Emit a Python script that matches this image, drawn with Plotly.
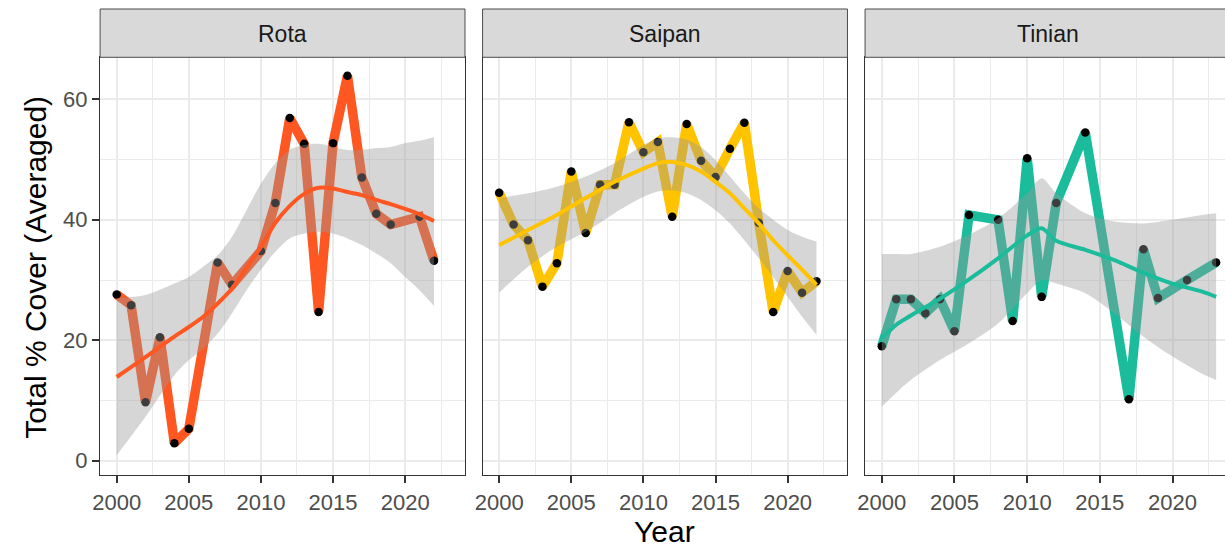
import plotly.graph_objects as go

# ---------------- data ----------------
islands = ["Rota", "Saipan", "Tinian"]
colors = ["#FF5722", "#FFC300", "#1ABC9C"]

rota_years = [2000, 2001, 2002, 2003, 2004, 2005, 2007, 2008, 2010, 2011, 2012,
              2013, 2014, 2015, 2016, 2017, 2018, 2019, 2021, 2022]
rota_cover = [27.6, 25.8, 9.7, 20.5, 2.9, 5.3, 32.9, 29.2, 34.8, 42.8, 56.9,
              52.6, 24.7, 52.7, 63.9, 47.0, 41.0, 39.2, 40.5, 33.2]

saipan_years = [2000, 2001, 2002, 2003, 2004, 2005, 2006, 2007, 2008, 2009, 2010,
                2011, 2012, 2013, 2014, 2015, 2016, 2017, 2018, 2019, 2020, 2021, 2022]
saipan_cover = [44.5, 39.2, 36.6, 28.9, 32.8, 48.0, 37.8, 45.8, 45.8, 56.2, 51.2,
                52.9, 40.5, 55.9, 49.8, 47.1, 51.8, 56.1, 39.5, 24.7, 31.5, 27.9, 29.8]

tinian_years = [2000, 2001, 2002, 2003, 2004, 2005, 2006, 2008, 2009, 2010, 2011,
                2012, 2014, 2017, 2018, 2019, 2021, 2023]
tinian_cover = [19.0, 26.8, 26.8, 24.5, 26.8, 21.5, 40.8, 40.0, 23.2, 50.2, 27.2,
                42.8, 54.5, 10.2, 35.1, 27.0, 30.0, 32.9]

# smoothed trend (loess) and 95% band
rota_sm_years = [2000, 2002, 2004, 2005, 2006, 2007, 2008, 2009, 2010, 2011, 2012,
                 2013, 2014, 2015, 2016, 2017, 2018, 2019, 2020, 2021, 2022]
rota_sm_fit = [13.9, 17.2, 20.6, 22.2, 23.9, 26.1, 28.6, 32.0, 35.5, 39.5, 42.3,
               44.3, 45.3, 45.2, 44.6, 44.1, 43.3, 42.6, 41.8, 40.9, 39.8]
rota_sm_hi = [27.0, 27.5, 29.4, 30.5, 32.2, 34.1, 37.2, 41.6, 46.0, 49.4, 51.6,
              52.4, 52.6, 52.1, 51.6, 51.6, 51.9, 52.1, 52.7, 53.1, 53.7]
rota_sm_lo = [0.9, 7.3, 14.2, 16.7, 18.6, 21.1, 24.5, 28.3, 31.7, 34.7, 36.9,
              37.7, 38.0, 37.7, 36.9, 35.8, 34.4, 32.8, 30.5, 28.3, 25.7]

saipan_sm_years = [2000, 2002, 2004, 2006, 2008, 2010, 2011, 2012, 2013, 2014, 2015,
                   2016, 2017, 2018, 2019, 2020, 2021, 2022]
saipan_sm_fit = [35.8, 38.3, 40.8, 43.6, 46.3, 48.5, 49.4, 49.6, 49.1, 48.0, 46.3,
                 44.4, 41.9, 39.4, 36.6, 34.1, 31.7, 29.2]
saipan_sm_hi = [43.6, 44.4, 45.5, 47.2, 49.4, 52.4, 53.5, 53.7, 53.3, 52.1, 49.9,
                47.2, 44.4, 41.9, 40.0, 38.3, 37.2, 36.4]
saipan_sm_lo = [27.9, 32.2, 35.5, 38.0, 41.1, 43.8, 44.7, 44.9, 44.4, 43.3, 41.6,
                39.4, 36.6, 33.6, 30.5, 27.2, 23.9, 20.9]

tinian_sm_years = [2000, 2001, 2002, 2004, 2006, 2008, 2010, 2011, 2012, 2014, 2016,
                   2018, 2020, 2022, 2023]
tinian_sm_fit = [20.3, 22.6, 24.1, 26.9, 30.1, 33.6, 37.4, 38.6, 36.5, 35.0, 33.3,
                 31.2, 29.4, 28.1, 27.2]
tinian_sm_hi = [34.3, 34.3, 34.3, 35.5, 37.5, 40.2, 44.4, 46.9, 44.4, 41.1, 39.7,
                39.4, 40.0, 40.8, 41.1]
tinian_sm_lo = [9.0, 11.3, 13.4, 16.7, 19.5, 22.8, 27.8, 30.0, 29.4, 27.8, 24.5,
                20.6, 17.3, 14.5, 13.4]

x_ticks = [2000, 2005, 2010, 2015, 2020]
y_ticks = [0, 20, 40, 60]

series = [(rota_years, rota_cover), (saipan_years, saipan_cover), (tinian_years, tinian_cover)]
smooths = [(rota_sm_years, rota_sm_fit, rota_sm_lo, rota_sm_hi),
           (saipan_sm_years, saipan_sm_fit, saipan_sm_lo, saipan_sm_hi),
           (tinian_sm_years, tinian_sm_fit, tinian_sm_lo, tinian_sm_hi)]

# ---------------- figure ----------------
W, H = 1225, 548
fig = go.Figure()


def px_x(p):
    return p / W


def px_y(p):
    return (H - p) / H


x_domains = [[px_x(92.7), px_x(460.0)], [px_x(477.7), px_x(845.0)], [px_x(862.7), 1.0]]
x_ranges = [[1998.85, 2024.15], [1998.85, 2024.15], [1998.85, 2023.61]]
y_dom = [px_y(475.0), px_y(57.3)]
y_range = [-2.37, 66.97]

font_family = "Liberation Sans, Arial, sans-serif"

for i, (yrs, cov) in enumerate(series):
    xa = "x" if i == 0 else f"x{i+1}"
    ya = "y" if i == 0 else f"y{i+1}"
    c = colors[i]
    fig.add_trace(go.Scatter(x=yrs, y=cov, mode="lines", xaxis=xa, yaxis=ya,
                             line=dict(color=c, width=9.5), showlegend=False, hoverinfo="skip"))
    fig.add_trace(go.Scatter(x=yrs, y=cov, mode="markers", xaxis=xa, yaxis=ya,
                             marker=dict(color="black", size=8.5, line=dict(width=0)),
                             showlegend=False))
    sx, sf, slo, shi = smooths[i]
    fig.add_trace(go.Scatter(x=sx, y=shi, mode="lines", xaxis=xa, yaxis=ya,
                             line=dict(width=0, shape="spline", smoothing=0.8),
                             showlegend=False, hoverinfo="skip"))
    fig.add_trace(go.Scatter(x=sx, y=slo, mode="lines", xaxis=xa, yaxis=ya, fill="tonexty",
                             fillcolor="rgba(153,153,153,0.4)",
                             line=dict(width=0, shape="spline", smoothing=0.8),
                             showlegend=False, hoverinfo="skip"))
    fig.add_trace(go.Scatter(x=sx, y=sf, mode="lines", xaxis=xa, yaxis=ya,
                             line=dict(color=c, width=4, shape="spline", smoothing=0.8),
                             showlegend=False))

grid_c = "#EBEBEB"
tick_font = dict(family=font_family, size=22, color="#4D4D4D")
layout = dict(
    width=W, height=H,
    margin=dict(l=0, r=0, t=0, b=0),
    paper_bgcolor="white", plot_bgcolor="white",
    showlegend=False,
    font=dict(family=font_family),
)

for i in range(3):
    xkey = "xaxis" if i == 0 else f"xaxis{i+1}"
    ykey = "yaxis" if i == 0 else f"yaxis{i+1}"
    ya = "y" if i == 0 else f"y{i+1}"
    xa = "x" if i == 0 else f"x{i+1}"
    layout[xkey] = dict(
        domain=x_domains[i], range=x_ranges[i], anchor=ya,
        tickmode="array", tickvals=x_ticks, ticktext=[str(t) for t in x_ticks],
        ticks="outside", ticklen=7, tickwidth=1.5, tickcolor="#333333",
        tickfont=tick_font, showgrid=True, gridcolor=grid_c, gridwidth=1.5,
        minor=dict(tickmode="array", tickvals=[1997.5, 2002.5, 2007.5, 2012.5, 2017.5, 2022.5],
                   showgrid=True, gridcolor=grid_c, gridwidth=0.8, ticks=""),
        zeroline=False, showline=True, mirror=True, linecolor="#333333", linewidth=1.3,
        fixedrange=True,
    )
    layout[ykey] = dict(
        domain=y_dom, range=y_range, anchor=xa,
        tickmode="array", tickvals=y_ticks, ticktext=[str(t) for t in y_ticks],
        ticks="outside" if i == 0 else "", ticklen=7, tickwidth=1.5, tickcolor="#333333",
        showticklabels=(i == 0), tickfont=tick_font,
        showgrid=True, gridcolor=grid_c, gridwidth=1.5,
        minor=dict(tickmode="array", tickvals=[10, 30, 50], showgrid=True,
                   gridcolor=grid_c, gridwidth=0.8, ticks=""),
        zeroline=False, showline=True, mirror=(i < 2), linecolor="#333333", linewidth=1.3,
        fixedrange=True,
    )

fig.update_layout(**layout)

# strips
shapes = []
annotations = []
for i, name in enumerate(islands):
    x0, x1 = x_domains[i]
    if i == 2:
        x1 = 1.01
    shapes.append(dict(type="rect", xref="paper", yref="paper", x0=x0, x1=x1,
                       y0=px_y(57.3), y1=px_y(9.0), fillcolor="#D9D9D9",
                       line=dict(color="#4D4D4D", width=1), layer="above"))
    xc = (x_domains[i][0] + (px_x(1230) if i == 2 else x_domains[i][1])) / 2
    annotations.append(dict(text=name, xref="paper", yref="paper", x=xc, y=px_y(33.5),
                            xanchor="center", yanchor="middle", showarrow=False,
                            font=dict(family=font_family, size=23, color="#1A1A1A")))

annotations.append(dict(text="Year", xref="paper", yref="paper", x=px_x(661), y=px_y(531),
                        xanchor="center", yanchor="middle", showarrow=False,
                        font=dict(family=font_family, size=30, color="black")))
annotations.append(dict(text="Total % Cover (Averaged)", xref="paper", yref="paper",
                        x=px_x(27), y=px_y(267), textangle=-90,
                        xanchor="center", yanchor="middle", showarrow=False,
                        font=dict(family=font_family, size=30, color="black")))

fig.update_layout(shapes=shapes, annotations=annotations)

fig.write_html("out.html", config={"displayModeBar": False},
               post_script="document.body.style.margin='0px';document.body.style.overflow='hidden';")
